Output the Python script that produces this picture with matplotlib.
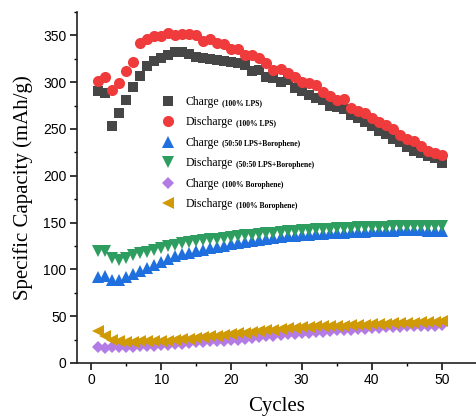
import matplotlib
matplotlib.use("Agg")
import matplotlib.pyplot as plt
from matplotlib.ticker import MultipleLocator

cycles = list(range(1, 51))

charge_lps = [291, 288, 253, 267, 281, 295, 307, 317, 323, 326,
              329, 332, 332, 330, 327, 326, 325, 324, 323, 322,
              320, 318, 312, 313, 306, 305, 300, 302, 294, 291,
              286, 283, 281, 275, 273, 271, 265, 262, 258, 253,
              248, 245, 239, 236, 231, 226, 224, 221, 219, 214]
discharge_lps = [301, 306, 292, 299, 312, 322, 342, 346, 349, 349,
                 353, 350, 352, 351, 350, 344, 346, 342, 341, 336,
                 336, 329, 329, 326, 320, 313, 314, 310, 306, 300,
                 299, 297, 289, 285, 281, 282, 272, 269, 267, 262,
                 257, 254, 250, 244, 239, 237, 232, 226, 224, 222]
charge_mix = [92, 93, 89, 89, 92, 95, 98, 102, 105, 108,
              111, 114, 116, 118, 120, 121, 123, 124, 125, 127,
              128, 129, 130, 131, 133, 134, 135, 136, 136, 137,
              137, 138, 138, 139, 139, 139, 140, 140, 140, 141,
              141, 141, 141, 142, 142, 142, 142, 141, 141, 141]
discharge_mix = [120, 120, 112, 110, 112, 115, 117, 119, 121, 123,
                 125, 126, 128, 129, 130, 131, 132, 133, 134, 135,
                 136, 137, 137, 138, 139, 139, 140, 141, 141, 142,
                 142, 143, 143, 143, 144, 144, 144, 145, 145, 145,
                 145, 145, 146, 146, 146, 146, 146, 146, 146, 146]
charge_boro = [17, 16, 17, 17, 17, 17, 18, 18, 18, 19,
               19, 20, 20, 21, 22, 22, 23, 23, 24, 25,
               25, 26, 27, 28, 29, 29, 30, 31, 31, 32,
               32, 33, 33, 34, 35, 35, 35, 36, 36, 37,
               37, 38, 38, 38, 39, 39, 39, 40, 40, 41]
discharge_boro = [34, 29, 25, 23, 22, 22, 23, 23, 23, 24,
                  24, 25, 26, 26, 27, 28, 29, 29, 30, 31,
                  32, 32, 33, 34, 35, 35, 36, 37, 37, 38,
                  38, 39, 39, 40, 40, 40, 41, 41, 41, 42,
                  42, 42, 43, 43, 43, 43, 44, 44, 44, 45]

series = [
    (charge_lps, "s", "#464646", 7.0, "Charge", "(100% LPS)"),
    (discharge_lps, "o", "#ef3b3b", 8.0, "Discharge", "(100% LPS)"),
    (charge_mix, "^", "#1f6fde", 8.0, "Charge", "(50:50 LPS+Borophene)"),
    (discharge_mix, "v", "#2e9d60", 8.0, "Discharge", "(50:50 LPS+Borophene)"),
    (charge_boro, "D", "#b37be4", 6.5, "Charge", "(100% Borophene)"),
    (discharge_boro, "<", "#cf9a06", 8.0, "Discharge", "(100% Borophene)"),
]

fig = plt.figure(figsize=(4.77, 4.17), dpi=100)
ax = fig.add_axes([77 / 477, 54 / 417, 400 / 477, 351 / 417])

for vals, m, c, ms, lab, sub in series:
    ax.plot(cycles, vals, linestyle="none", marker=m, color=c, markersize=ms,
            markeredgewidth=0, label=lab)

ax.set_xlim(-2, 55)
ax.set_ylim(0, 375)
ax.xaxis.set_major_locator(MultipleLocator(10))
ax.xaxis.set_minor_locator(MultipleLocator(5))
ax.yaxis.set_major_locator(MultipleLocator(50))
ax.yaxis.set_minor_locator(MultipleLocator(25))
for s in ["top", "right"]:
    ax.spines[s].set_visible(False)
for s in ["left", "bottom"]:
    ax.spines[s].set_linewidth(1.2)
    ax.spines[s].set_color("#222222")
ax.tick_params(which="major", direction="out", length=5, width=1.1, labelsize=10, pad=2.5)
ax.tick_params(which="minor", direction="out", length=2.5, width=1.0)
for t in ax.get_xticklabels() + ax.get_yticklabels():
    t.set_fontfamily("Liberation Sans")

ax.set_xlabel("Cycles", fontfamily="Liberation Serif", fontsize=15, labelpad=7)
ax.set_ylabel("Specific Capacity (mAh/g)", fontfamily="Liberation Serif", fontsize=15, labelpad=7)

leg = ax.legend(loc="upper left", bbox_to_anchor=(0.198, 0.775), frameon=False,
                prop={"family": "Liberation Serif", "size": 8.5},
                handletextpad=0.9, labelspacing=0.72, handlelength=1.2,
                borderaxespad=0)
for txt, (vals, m, c, ms, lab, sub) in zip(leg.get_texts(), series):
    ax.annotate(sub, xy=(1, 0), xycoords=txt, xytext=(2, 0.5),
                textcoords="offset points", va="bottom", ha="left",
                fontsize=5.5, fontweight="bold", fontfamily="Liberation Serif",
                zorder=10)

fig.savefig("out.png", dpi=100)
